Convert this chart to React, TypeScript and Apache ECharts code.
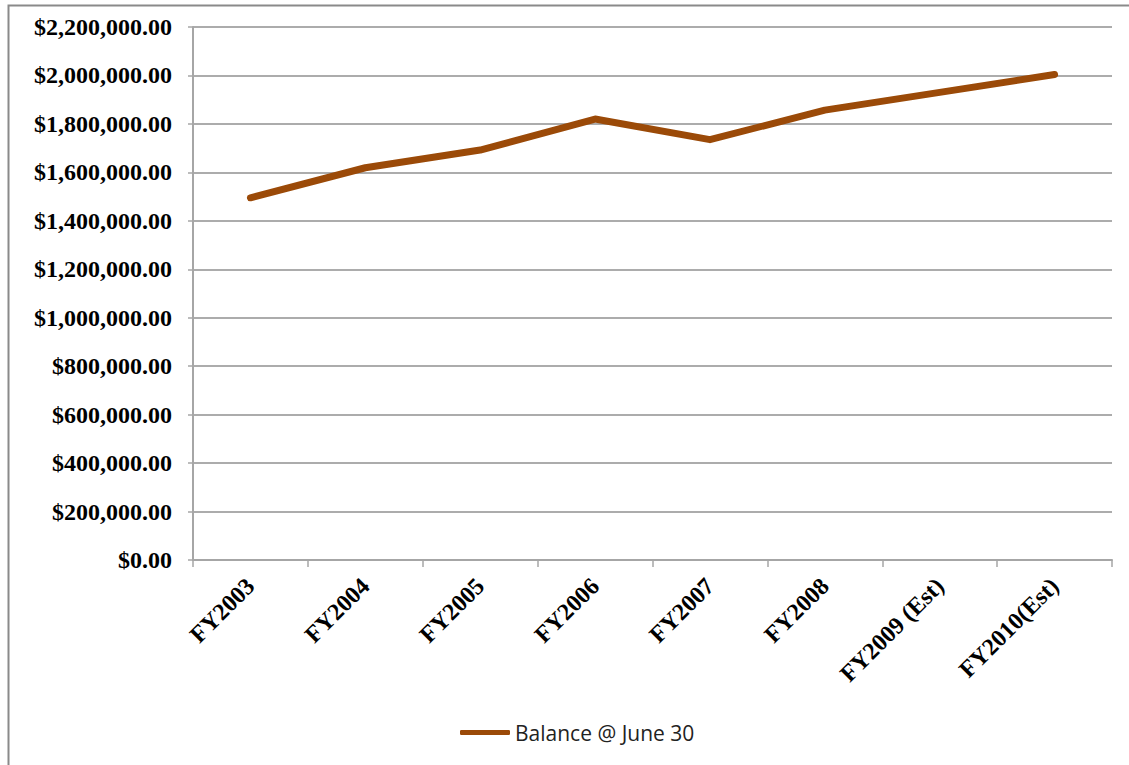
import React, { useEffect, useRef } from "react";
import * as echarts from "echarts";

// Fiscal years shown along the category axis
const fiscalYears = [
  "FY2003",
  "FY2004",
  "FY2005",
  "FY2006",
  "FY2007",
  "FY2008",
  "FY2009 (Est)",
  "FY2010(Est)",
];

// Fund balance at June 30 of each fiscal year (USD)
const balanceAtJune30 = [1495000, 1619000, 1692000, 1820000, 1735000, 1857000, 1930000, 2004000];

const seriesName = "Balance @ June 30";

// Value axis range and step
const yMin = 0;
const yMax = 2200000;
const yStep = 200000;

const lineColor = "#9b4a08";

function formatDollars(v: number): string {
  const whole = Math.round(v)
    .toString()
    .replace(/\B(?=(\d{3})+(?!\d))/g, ",");
  return "$" + whole + ".00";
}

export default function App() {
  const ref = useRef<HTMLDivElement>(null);

  useEffect(() => {
    if (!ref.current) return;
    const chart = echarts.init(ref.current, undefined, { renderer: "svg" });
    chart.setOption({
      animation: false,
      backgroundColor: "#ffffff",
      graphic: [
        {
          type: "rect",
          left: 6,
          top: 3,
          shape: { width: 1200, height: 900 },
          style: { fill: "none", stroke: "#8a8a8a", lineWidth: 2 },
          silent: true,
          z: -1,
        },
      ],
      grid: { left: 193, right: 17, top: 27, bottom: 205 },
      legend: {
        bottom: 17,
        left: 455,
        icon: "roundRect",
        itemWidth: 50,
        itemHeight: 5,
        itemGap: 4,
        data: [seriesName],
        textStyle: {
          fontFamily: "'Open Sans', 'Liberation Sans', sans-serif",
          fontSize: 21,
          color: "#222",
        },
      },
      xAxis: {
        type: "category",
        data: fiscalYears,
        boundaryGap: true,
        axisLine: { lineStyle: { color: "#a6a6a6", width: 2 } },
        axisTick: { show: true, length: 7, lineStyle: { color: "#a6a6a6", width: 1.5 } },
        axisLabel: {
          rotate: 45,
          margin: 22,
          interval: 0,
          fontFamily: "'Liberation Serif', 'Times New Roman', serif",
          fontWeight: "bold",
          fontSize: 24,
          color: "#000",
        },
      },
      yAxis: {
        type: "value",
        min: yMin,
        max: yMax,
        interval: yStep,
        axisLine: { show: true, lineStyle: { color: "#a6a6a6", width: 2 } },
        axisTick: { show: true, length: 5, lineStyle: { color: "#a6a6a6", width: 1.5 } },
        splitLine: { show: true, lineStyle: { color: "#909090", width: 1.5 } },
        axisLabel: {
          margin: 21,
          formatter: (v: number) => formatDollars(v),
          fontFamily: "'Liberation Serif', 'Times New Roman', serif",
          fontWeight: "bold",
          fontSize: 24,
          color: "#000",
        },
      },
      series: [
        {
          name: seriesName,
          type: "line",
          data: balanceAtJune30,
          symbol: "none",
          color: lineColor,
          lineStyle: { color: lineColor, width: 7, cap: "round", join: "round" },
        },
      ],
    });
    return () => chart.dispose();
  }, []);

  return (
    <div
      ref={ref}
      style={{ position: "fixed", left: 0, top: 0, width: 1129, height: 765 }}
    />
  );
}
